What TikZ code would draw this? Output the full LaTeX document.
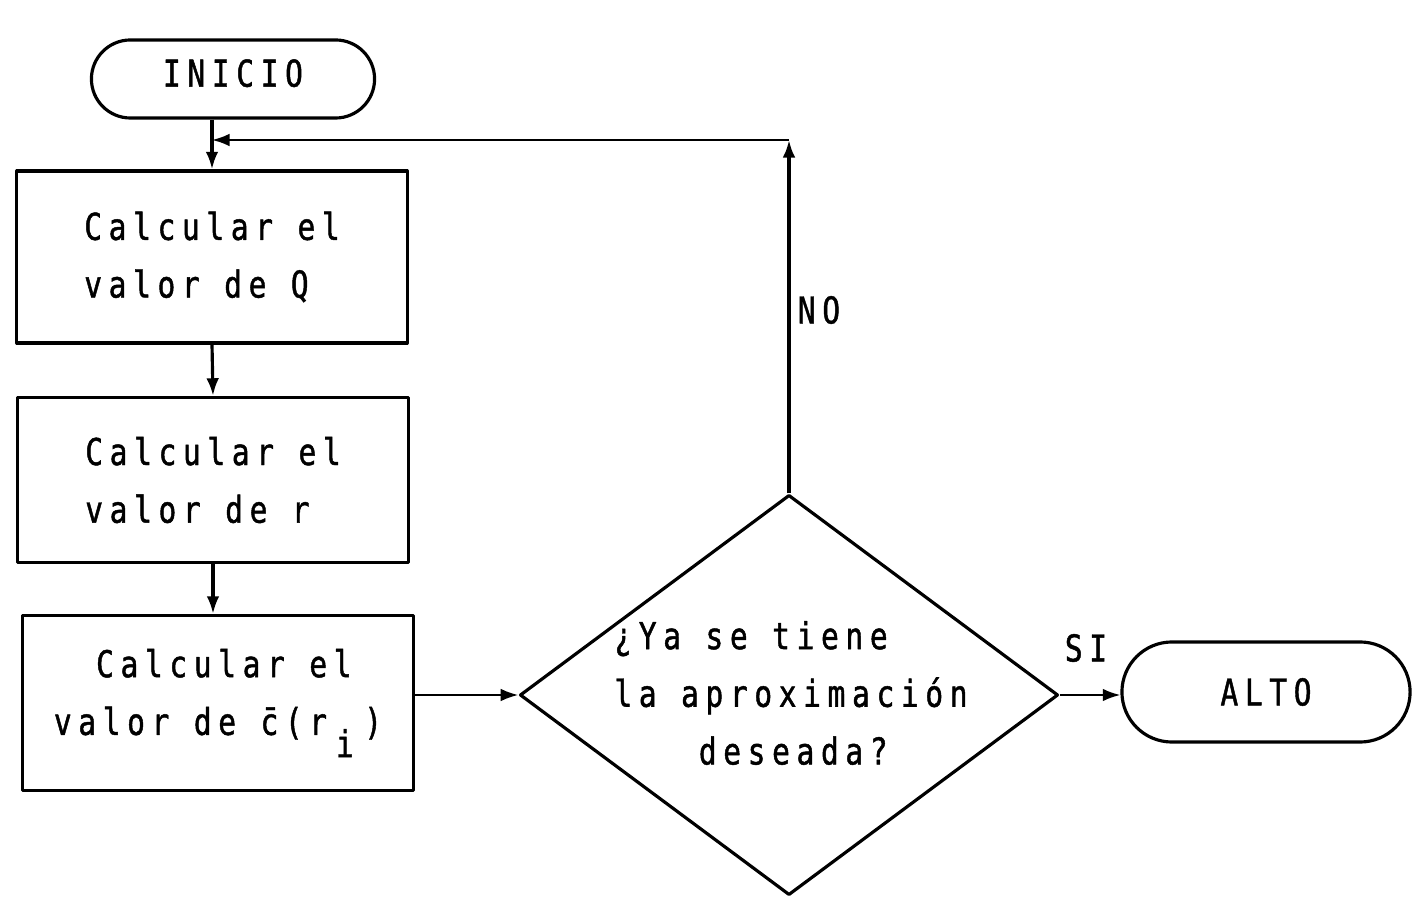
\documentclass[tikz,border=0pt]{standalone}
\usepackage{fontspec}
\newfontfamily\typefont{DejaVu Sans Mono}[FakeStretch=0.8,LetterSpace=18,FakeBold=1.2]
\usetikzlibrary{arrows.meta, shapes.geometric, calc}

\begin{document}
\begin{tikzpicture}[x=0.01cm, y=-0.01cm, line join=round,
    every node/.style={font=\typefont\fontsize{10.5}{16.4}\selectfont},
    terminal/.style={draw, line width=0.9pt, rounded corners=#1, inner sep=0pt},
    process/.style={draw, line width=0.9pt, minimum width=3.9cm, inner sep=0pt},
    decision/.style={draw, line width=0.9pt, diamond, inner sep=0pt,
        minimum width=5.38cm, minimum height=4cm},
    flow/.style={line width=0.9pt, -{Latex[length=5pt,width=3.6pt]}},
    thinflow/.style={line width=0.6pt, -{Latex[length=5pt,width=3.6pt]}}]

        \useasboundingbox (0,0) rectangle (1419,898);

        % =========================
        % INICIO Y ALTO
        % =========================
        \node[terminal=0.39cm, minimum width=2.83cm, minimum height=0.78cm]
            (ini) at (233,79) {\raisebox{0.6ex}{INICIO}};

        \node[terminal=0.5cm, minimum width=2.88cm, minimum height=1cm]
            (alto) at (1266,692) {ALTO};

        % =========================
        % CAJAS DE CALCULO
        % =========================
        \node[process, minimum height=1.72cm, align=left]
            (box1) at (212,257) {Calcular el\\valor de Q};

        \node[process, minimum height=1.65cm, align=left]
            (box2) at (213,480) {Calcular el\\valor de r};

        \node[process, minimum height=1.75cm, align=left]
            (box3) at (218,703)
            {\phantom{va}Calcular el\\valor de c̄(r\kern2.5pt\raisebox{-1.1ex}{i}\kern3pt)};

        % =========================
        % PREGUNTA
        % =========================
        \node[decision] (dec) at (789,695) {};
        \node[align=left] (pregunta) at (791,693)
            {¿Ya se tiene\\la aproximación\\\phantom{la a}deseada?};

        \node (no) at (819,310) {NO};
        \node (si) at (1086,648) {SI};

        % =========================
        % FLECHAS
        % =========================
        \draw[flow] (ini.south -| box1.north) -- (box1.north);
        \draw[flow] (box1.south) -- (box2.north);
        \draw[flow] (box2.south) -- (box2.south |- box3.north);
        \draw[thinflow] (box3.east |- dec.west) -- (dec.west);
        \draw[thinflow] (dec.east) -- (alto.west |- dec.east);

        % regreso por NO
        \coordinate (corner) at (dec.north |- 0,140);
        \coordinate (join)   at (box1.north |- 0,140);

        \draw[flow] (dec.north) -- (corner);
        \draw[thinflow] (corner) -- (join);

    \end{tikzpicture}
\end{document}
